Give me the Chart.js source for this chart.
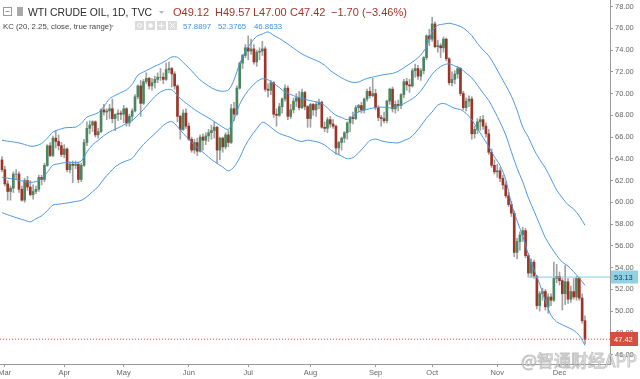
<!DOCTYPE html>
<html>
<head>
<meta charset="utf-8">
<script src="https://cdn.jsdelivr.net/npm/chart.js@4.4.1/dist/chart.umd.min.js"></script>
<style>
  html, body { margin: 0; padding: 0; background: #fff; }
  #chart { display: block; }
</style>
</head>
<body>
<canvas id="chart" width="640" height="379"></canvas>
<script>
// daily candles (Feb 27 .. Dec 18)
const opens = [
  63.9, 63.0, 61.7, 61.0, 61.3, 62.6, 62.6, 61.2, 60.2, 62.0, 61.4, 60.7, 61.0, 61.2, 62.3, 62.1, 63.4, 65.2, 64.3, 65.9,
  65.6, 65.2, 64.4, 64.9, 63.0, 63.5, 63.4, 63.5, 62.1, 63.4, 65.5, 66.8, 67.1, 67.4, 66.2, 66.5, 68.5, 68.3, 68.4, 68.6,
  67.7, 68.1, 68.2, 68.1, 68.6, 67.3, 67.9, 68.4, 69.7, 70.7, 69.1, 71.1, 71.4, 70.7, 71.0, 71.3, 71.5, 71.5, 71.3, 72.2,
  72.3, 71.8, 70.7, 67.9, 66.7, 68.2, 67.0, 65.8, 64.8, 65.5, 64.7, 66.0, 65.7, 66.1, 66.4, 66.6, 66.9, 64.8, 65.9, 65.1,
  66.2, 65.5, 68.6, 68.1, 70.5, 72.8, 73.5, 74.2, 73.9, 74.1, 72.9, 73.8, 73.9, 74.1, 70.4, 70.3, 71.0, 68.1, 68.0, 68.8,
  69.5, 70.5, 67.9, 68.5, 69.3, 69.6, 68.7, 70.1, 68.8, 67.7, 69.0, 68.5, 69.0, 69.2, 66.9, 66.8, 67.6, 67.2, 67.0, 65.0,
  65.5, 65.9, 66.4, 67.3, 67.8, 67.7, 68.7, 68.9, 68.5, 69.5, 70.2, 69.8, 70.0, 68.7, 67.8, 67.7, 67.5, 69.3, 70.4, 68.6,
  69.0, 68.9, 69.9, 71.1, 70.8, 70.7, 72.1, 72.3, 71.6, 72.1, 73.3, 75.3, 75.0, 76.4, 74.3, 74.4, 74.2, 75.0, 73.2, 71.0,
  71.3, 71.8, 72.3, 70.0, 68.7, 69.3, 69.5, 66.3, 66.7, 67.4, 67.6, 67.0, 66.3, 64.6, 63.4, 62.8, 62.9, 62.2, 61.6, 60.6,
  59.8, 59.0, 55.4, 56.4, 57.0, 57.4, 55.1, 53.5, 54.5, 53.2, 50.5, 51.6, 51.8, 50.4, 51.3, 51.0, 53.0, 53.2, 52.8, 51.6,
  52.7, 51.1, 51.8, 51.3, 53.0, 51.2, 49.12
];
const highs = [
  64.2, 63.3, 62.0, 61.5, 62.8, 63.0, 62.8, 61.5, 62.2, 62.4, 62.0, 61.6, 61.5, 62.5, 62.5, 63.6, 65.3, 65.5, 66.1, 66.6,
  66.2, 65.5, 65.3, 65.0, 63.7, 63.8, 63.8, 63.7, 63.6, 65.8, 67.4, 67.5, 67.5, 67.5, 66.8, 68.6, 69.0, 68.6, 69.0, 69.5,
  68.1, 68.5, 68.4, 68.9, 68.7, 68.1, 68.6, 69.9, 70.8, 71.2, 71.3, 71.9, 71.5, 71.4, 71.6, 71.9, 72.3, 71.9, 72.8, 72.9,
  72.4, 72.0, 70.8, 68.0, 68.5, 68.6, 67.3, 66.0, 65.8, 65.9, 66.2, 66.3, 66.4, 66.7, 67.1, 67.4, 67.0, 66.0, 66.0, 66.4,
  66.6, 69.0, 69.2, 70.7, 72.9, 73.6, 74.5, 75.3, 75.0, 74.5, 74.0, 74.2, 74.8, 74.3, 70.9, 71.2, 71.1, 68.6, 69.1, 69.6,
  70.8, 70.7, 69.0, 69.6, 70.0, 70.2, 70.4, 70.2, 68.9, 69.1, 69.1, 69.2, 69.5, 69.3, 67.4, 67.8, 67.9, 67.6, 67.1, 65.6,
  66.0, 66.5, 67.4, 67.9, 68.3, 68.9, 69.0, 69.2, 69.6, 70.4, 70.6, 71.4, 70.4, 68.9, 68.0, 68.3, 69.4, 70.5, 70.6, 69.3,
  69.4, 70.0, 71.3, 71.4, 71.3, 72.3, 72.7, 72.6, 72.3, 73.4, 75.4, 75.9, 77.0, 76.6, 74.9, 74.6, 75.2, 75.1, 73.3, 72.0,
  72.1, 72.5, 72.4, 70.2, 69.6, 69.8, 69.7, 67.0, 67.7, 67.9, 68.0, 67.3, 66.7, 64.9, 63.9, 63.5, 63.2, 62.5, 61.9, 60.9,
  60.1, 59.2, 56.7, 57.3, 57.7, 57.6, 55.3, 54.8, 54.7, 53.3, 51.8, 52.1, 52.0, 51.6, 51.6, 54.5, 54.3, 53.6, 53.0, 54.2,
  53.0, 52.3, 53.0, 53.2, 53.1, 51.6, 49.57
];
const lows = [
  62.8, 61.5, 60.2, 60.2, 60.9, 62.1, 60.9, 60.1, 60.0, 61.1, 60.6, 60.3, 60.8, 61.0, 61.6, 61.9, 63.3, 64.2, 64.2, 65.0,
  64.8, 64.2, 64.1, 62.8, 62.7, 61.8, 63.1, 61.8, 61.9, 63.3, 65.2, 66.3, 66.5, 66.0, 65.9, 66.4, 68.0, 67.6, 67.7, 67.3,
  66.6, 67.5, 67.6, 67.3, 67.0, 67.0, 67.5, 68.3, 69.5, 67.9, 69.0, 70.9, 70.4, 70.3, 70.5, 71.0, 71.2, 70.9, 71.2, 71.9,
  70.6, 70.4, 67.4, 65.8, 66.6, 66.8, 65.7, 64.6, 64.5, 64.3, 64.6, 64.8, 65.3, 65.6, 65.8, 65.9, 63.6, 63.9, 64.6, 64.9,
  65.1, 65.4, 67.5, 68.0, 70.4, 72.3, 73.3, 73.1, 73.6, 72.7, 72.5, 73.1, 73.5, 70.2, 69.7, 69.9, 67.8, 67.0, 67.9, 68.2,
  69.3, 67.6, 67.7, 68.2, 68.8, 68.5, 68.6, 68.5, 66.9, 66.9, 68.0, 67.9, 68.6, 66.8, 66.5, 66.4, 66.9, 66.8, 64.4, 64.4,
  64.8, 65.5, 65.8, 66.5, 67.2, 67.6, 68.3, 68.2, 68.2, 69.3, 69.6, 69.7, 68.5, 67.5, 67.0, 67.3, 67.3, 69.0, 68.3, 68.2,
  68.4, 68.6, 69.6, 70.3, 70.1, 70.6, 71.5, 71.3, 71.2, 71.8, 73.1, 74.4, 74.8, 74.2, 73.8, 73.3, 73.8, 73.0, 70.8, 70.7,
  70.9, 71.4, 69.8, 68.5, 68.4, 68.8, 65.8, 65.9, 66.3, 66.6, 66.7, 66.0, 64.4, 63.2, 62.6, 62.3, 61.9, 61.2, 60.4, 59.6,
  58.7, 55.0, 54.8, 55.6, 56.4, 54.9, 53.2, 53.1, 53.0, 50.2, 50.0, 51.0, 50.1, 49.8, 50.5, 50.9, 52.6, 52.4, 50.1, 50.6,
  50.7, 50.8, 51.1, 51.0, 51.0, 48.9, 47.00
];
const closes = [
  63.0, 61.7, 61.0, 61.3, 62.6, 62.6, 61.2, 60.2, 62.0, 61.4, 60.7, 61.0, 61.2, 62.3, 62.1, 63.4, 65.2, 64.3, 65.9, 65.6,
  65.2, 64.4, 64.9, 63.0, 63.5, 63.4, 63.5, 62.1, 63.4, 65.5, 66.8, 67.1, 67.4, 66.2, 66.5, 68.5, 68.3, 68.4, 68.6, 67.7,
  68.1, 68.2, 68.1, 68.6, 67.3, 67.9, 68.4, 69.7, 70.7, 69.1, 71.1, 71.4, 70.7, 71.0, 71.3, 71.5, 71.5, 71.3, 72.2, 72.3,
  71.8, 70.7, 67.9, 66.7, 68.2, 67.0, 65.8, 64.8, 65.5, 64.7, 66.0, 65.7, 66.1, 66.4, 66.6, 66.9, 64.8, 65.9, 65.1, 66.2,
  65.5, 68.6, 68.1, 70.5, 72.8, 73.5, 74.2, 73.9, 74.1, 72.9, 73.8, 73.9, 74.1, 70.4, 70.3, 71.0, 68.1, 68.0, 68.8, 69.5,
  70.5, 67.9, 68.5, 69.3, 69.6, 68.7, 70.1, 68.8, 67.7, 69.0, 68.5, 69.0, 69.2, 66.9, 66.8, 67.6, 67.2, 67.0, 65.0, 65.5,
  65.9, 66.4, 67.3, 67.8, 67.7, 68.7, 68.9, 68.5, 69.5, 70.2, 69.8, 70.0, 68.7, 67.8, 67.7, 67.5, 69.3, 70.4, 68.6, 69.0,
  68.9, 69.9, 71.1, 70.8, 70.7, 72.1, 72.3, 71.6, 72.1, 73.3, 75.3, 75.0, 76.4, 74.3, 74.4, 74.2, 75.0, 73.2, 71.0, 71.3,
  71.8, 72.3, 70.0, 68.7, 69.3, 69.5, 66.3, 66.7, 67.4, 67.6, 67.0, 66.3, 64.6, 63.4, 62.8, 62.9, 62.2, 61.6, 60.6, 59.8,
  59.0, 55.4, 56.4, 57.0, 57.4, 55.1, 53.5, 54.5, 53.2, 50.5, 51.6, 51.8, 50.4, 51.3, 51.0, 53.0, 53.2, 52.8, 51.6, 52.7,
  51.1, 51.8, 51.3, 53.0, 51.2, 49.12, 47.42
];

// Keltner channel, one reading every second candle
const kcUpper = [
  65.70, 65.62, 65.55, 65.46, 65.32, 65.16, 65.20, 65.40, 65.89, 66.46,
  66.67, 66.84, 66.88, 66.91, 67.25, 67.83, 68.03, 68.24, 68.81, 69.52,
  69.83, 70.09, 70.34, 70.84, 71.68, 71.99, 72.24, 72.51, 72.74, 73.04,
  73.36, 73.33, 72.86, 72.36, 71.80, 71.25, 70.87, 70.53, 70.29, 70.21,
  70.32, 71.26, 72.77, 73.87, 74.65, 75.26, 75.47, 75.66, 75.35, 75.06,
  74.73, 74.36, 73.98, 73.63, 73.38, 73.15, 72.93, 72.60, 72.12, 71.76,
  71.44, 71.18, 71.02, 71.06, 71.29, 71.46, 71.57, 71.69, 71.78, 71.85,
  72.04, 72.38, 72.71, 73.08, 73.55, 74.31, 75.68, 76.27, 76.38, 76.46,
  76.34, 76.16, 75.83, 75.33, 74.61, 73.99, 73.47, 72.62, 71.69, 70.75,
  69.76, 68.46, 66.91, 65.98, 64.84, 63.93, 63.16, 62.15, 61.12, 60.40,
  59.78, 59.38, 58.74, 57.89
];
const kcMiddle = [
  62.30, 62.22, 62.14, 62.03, 61.93, 61.82, 61.91, 62.17, 62.75, 63.42,
  63.54, 63.65, 63.69, 63.64, 63.79, 64.63, 65.28, 65.70, 66.13, 66.48,
  66.72, 66.97, 67.25, 67.51, 68.01, 68.54, 69.14, 69.72, 70.14, 70.36,
  70.34, 69.82, 69.33, 68.93, 68.53, 68.21, 67.90, 67.60, 67.25, 66.91,
  66.70, 67.63, 69.02, 69.93, 70.58, 71.08, 71.36, 71.26, 70.94, 70.55,
  70.14, 69.92, 69.71, 69.55, 69.41, 69.29, 69.19, 68.91, 68.42, 68.00,
  67.80, 67.60, 67.93, 68.32, 68.47, 68.61, 68.71, 68.75, 68.72, 68.68,
  68.85, 69.06, 69.37, 69.70, 70.25, 70.99, 71.78, 72.29, 72.62, 72.73,
  72.53, 72.31, 71.87, 71.44, 70.77, 70.04, 69.36, 68.41, 67.36, 66.19,
  64.64, 63.14, 61.89, 60.41, 59.20, 57.97, 56.75, 55.89, 55.12, 54.50,
  54.15, 53.62, 53.03, 52.38
];
const kcLower = [
  59.05, 58.86, 58.68, 58.51, 58.35, 58.21, 58.49, 58.76, 59.23, 59.75,
  59.83, 59.90, 59.98, 60.08, 60.18, 60.52, 60.97, 61.45, 62.14, 62.73,
  63.27, 63.59, 63.82, 64.04, 64.71, 65.32, 65.84, 66.30, 66.83, 67.26,
  67.42, 66.96, 66.35, 65.79, 65.27, 64.82, 64.38, 63.94, 63.58, 63.24,
  62.89, 63.26, 64.10, 65.23, 66.07, 66.76, 67.36, 67.11, 66.68, 66.33,
  66.14, 65.96, 65.71, 65.59, 65.72, 65.63, 65.51, 65.27, 64.86, 64.50,
  64.25, 64.01, 64.11, 64.55, 65.11, 65.68, 65.81, 65.66, 65.54, 65.49,
  65.46, 65.68, 65.90, 66.37, 67.03, 67.73, 68.31, 68.94, 69.09, 68.89,
  68.63, 68.53, 68.17, 67.59, 66.76, 65.97, 65.12, 64.19, 63.39, 62.10,
  59.90, 58.30, 56.90, 55.20, 53.80, 52.48, 50.91, 49.62, 49.01, 48.75,
  48.50, 48.23, 47.76, 46.86
];
const kcLegend = ['57.8897', '52.3765', '46.8633'];

const monthNames = ['Mar', 'Apr', 'May', 'Jun', 'Jul', 'Aug', 'Sep', 'Oct', 'Nov', 'Dec'];
const monthIdx = [1, 22, 43, 66, 87, 109, 132, 152, 175, 197];
const yTicks = [46, 48, 50, 52, 54, 56, 58, 60, 62, 64, 66, 68, 70, 72, 74, 76, 78];

const rayPrice = 53.13;
const rayStart = 185.6;
const changeText = '\u22121.70 (\u22123.46%)';

const X_MIN = -0.707, X_MAX = 214.84;
const Y_MIN = 45.141, Y_MAX = 78.597;
const UP = '#4a8660', DOWN = '#9e3427', WICK = '#a2a2a2', BAND = '#4a98e0';
const FONT = '"Liberation Sans", Arial, sans-serif';

const last = closes.length - 1;
const bodies = closes.map((c, i) => ({ x: i, y: [opens[i], c] }));
const wicks = highs.map((h, i) => ({ x: i, y: [lows[i], h] }));
const bodyColors = closes.map((c, i) => c >= opens[i] ? UP : DOWN);
const bandPoints = arr => arr.map((v, k) => ({ x: k * 2, y: v }));

function bandSet(arr) {
    return { type: 'line', data: bandPoints(arr), borderColor: BAND, borderWidth: 1,
             pointRadius: 0, tension: 0.3, order: 0 };
}

const overlay = {
    id: 'overlay',
    afterDraw(chart) {
        const ctx = chart.ctx;
        const y = chart.scales.y;
        ctx.save();
        ctx.textBaseline = 'alphabetic';

        // legend line 1
        ctx.strokeStyle = '#9a9a9a';
        ctx.lineWidth = 1;
        ctx.strokeRect(3.5, 7.5, 8, 8);
        ctx.beginPath(); ctx.moveTo(5.5, 11.5); ctx.lineTo(9.5, 11.5); ctx.stroke();
        ctx.fillStyle = '#a8a8a8';
        ctx.fillRect(17, 7, 6, 9);
        ctx.font = '10.4px ' + FONT;
        ctx.fillStyle = '#2b2b2b';
        ctx.fillText('WTI CRUDE OIL, 1D, TVC', 28, 16);
        ctx.fillStyle = '#b8b8b8';
        ctx.beginPath(); ctx.moveTo(159, 11); ctx.lineTo(164, 11); ctx.lineTo(161.5, 14); ctx.fill();
        ctx.font = '11px ' + FONT;
        ctx.fillStyle = '#9f3426';
        ctx.fillText('O' + opens[last].toFixed(2), 173, 16);
        ctx.fillText('H' + highs[last].toFixed(2), 215, 16);
        ctx.fillText('L' + lows[last].toFixed(2), 253, 16);
        ctx.fillText('C' + closes[last].toFixed(2), 290, 16);
        ctx.fillText(changeText, 331, 16);

        // legend line 2
        ctx.font = '7.8px ' + FONT;
        ctx.fillStyle = '#444';
        ctx.fillText('KC (20, 2.25, close, true range)', 3, 29);
        ctx.fillStyle = '#b8b8b8';
        ctx.beginPath(); ctx.moveTo(110, 25); ctx.lineTo(114, 25); ctx.lineTo(112, 27.5); ctx.fill();
        [135, 146, 157, 168].forEach((bx, n) => {
            ctx.fillStyle = '#dcdcdc';
            ctx.fillRect(bx, 21, 9, 9);
            ctx.strokeStyle = '#fff';
            ctx.fillStyle = '#fff';
            ctx.beginPath();
            if (n === 0) { ctx.arc(bx + 4.5, 25.5, 2, 0, Math.PI * 2); ctx.stroke(); }
            else if (n === 1) { ctx.arc(bx + 4.5, 25.5, 2.3, 0, Math.PI * 2); ctx.fill(); }
            else if (n === 2) { ctx.moveTo(bx + 4.5, 22.5); ctx.lineTo(bx + 4.5, 28.5); ctx.moveTo(bx + 1.5, 25.5); ctx.lineTo(bx + 7.5, 25.5); ctx.stroke(); }
            else { ctx.moveTo(bx + 2, 23); ctx.lineTo(bx + 7, 28); ctx.moveTo(bx + 7, 23); ctx.lineTo(bx + 2, 28); ctx.stroke(); }
        });
        ctx.fillStyle = '#3f8fdc';
        ctx.fillText(kcLegend[0], 183, 29);
        ctx.fillText(kcLegend[1], 218, 29);
        ctx.fillText(kcLegend[2], 254, 29);

        // price labels on the axis
        ctx.font = '7.5px ' + FONT;
        const yr = Math.round(y.getPixelForValue(rayPrice));
        ctx.fillStyle = '#8fd2e6';
        ctx.fillRect(611, yr - 6.5, 27, 13);
        ctx.fillStyle = '#163a4c';
        ctx.fillText(rayPrice.toFixed(2), 614, yr + 3);
        const yc = Math.round(y.getPixelForValue(closes[last]));
        ctx.fillStyle = '#d5503c';
        ctx.fillRect(610, yc - 7, 28, 14);
        ctx.fillStyle = '#fff';
        ctx.fillText(closes[last].toFixed(2), 614, yc + 3);

        // watermark
        ctx.font = '17px "Noto Sans CJK SC", sans-serif';
        ctx.lineWidth = 1;
        ctx.strokeStyle = 'rgba(140,140,140,0.5)';
        ctx.fillStyle = 'rgba(255,255,255,0.8)';
        ctx.fillText('@智通财经APP', 521, 367);
        ctx.strokeText('@智通财经APP', 521, 367);
        ctx.restore();
    }
};

const chart = new Chart(document.getElementById('chart'), {
    type: 'bar',
    data: {
        datasets: [
            bandSet(kcUpper),
            bandSet(kcMiddle),
            bandSet(kcLower),
            { type: 'line', data: [{ x: rayStart, y: rayPrice }, { x: X_MAX, y: rayPrice }],
              borderColor: '#86cde3', borderWidth: 1, pointRadius: 0, order: 0 },
            { type: 'line', data: [{ x: X_MIN, y: closes[last] }, { x: X_MAX, y: closes[last] }],
              borderColor: '#d9533f', borderWidth: 1, borderDash: [1, 2], pointRadius: 0, order: 0 },
            { data: bodies, backgroundColor: bodyColors, barThickness: 2, grouped: false, order: 1 },
            { data: wicks, backgroundColor: WICK, barThickness: 1, grouped: false, order: 2 }
        ]
    },
    options: {
        responsive: false,
        animation: false,
        devicePixelRatio: 1,
        layout: { padding: 0 },
        events: [],
        plugins: { legend: { display: false }, tooltip: { enabled: false } },
        scales: {
            x: {
                type: 'linear', min: X_MIN, max: X_MAX, offset: false,
                grid: { drawOnChartArea: false, tickLength: 3, color: '#9a9a9a', offset: false },
                border: { color: '#9a9a9a' },
                ticks: {
                    autoSkip: false, maxRotation: 0, padding: 1, color: '#666',
                    font: { size: 7.5, family: FONT },
                    callback: v => monthNames[monthIdx.indexOf(v)] || ''
                },
                afterBuildTicks: s => { s.ticks = monthIdx.map(v => ({ value: v })); },
                afterFit: s => { s.height = 15; s.paddingLeft = 0; s.paddingRight = 0; }
            },
            y: {
                position: 'right', min: Y_MIN, max: Y_MAX,
                grid: { drawOnChartArea: false, tickLength: 3, color: '#9a9a9a' },
                border: { color: '#9a9a9a' },
                ticks: {
                    padding: 2, color: '#666',
                    font: { size: 7.5, family: FONT },
                    callback: v => v.toFixed(2)
                },
                afterBuildTicks: s => { s.ticks = yTicks.map(v => ({ value: v })); },
                afterFit: s => { s.width = 30; s.paddingTop = 0; s.paddingBottom = 0; }
            }
        }
    },
    plugins: [overlay]
});
</script>
</body>
</html>
